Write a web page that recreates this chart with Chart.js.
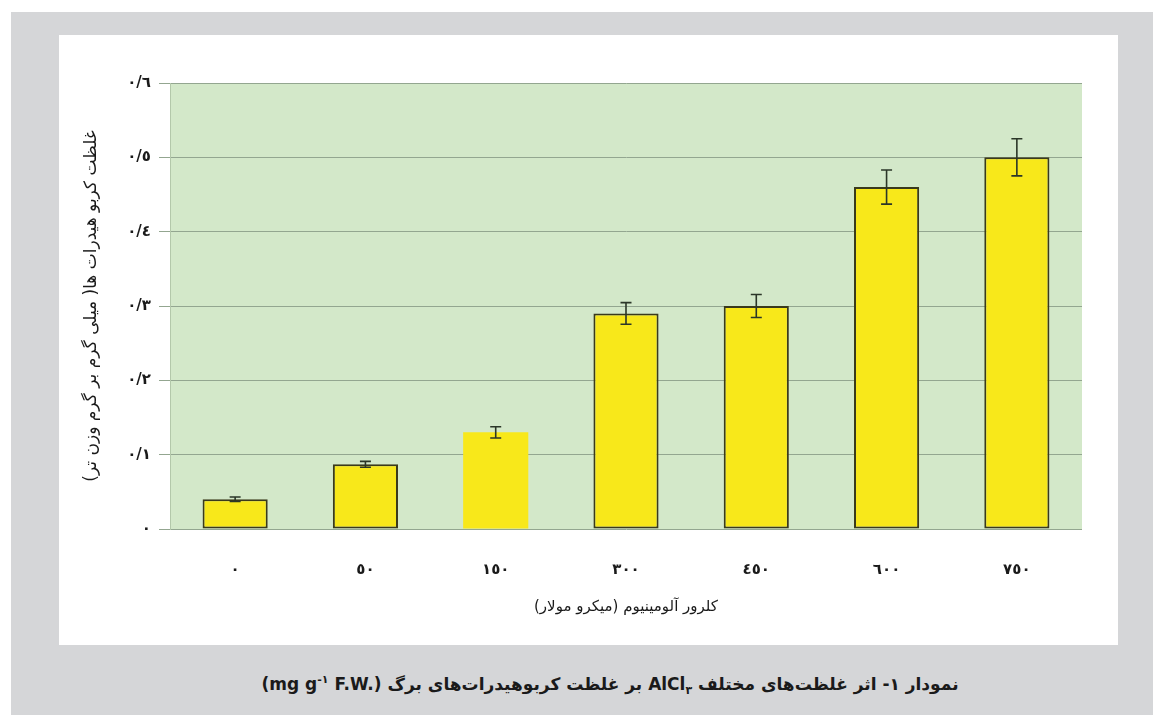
<!DOCTYPE html>
<html lang="fa">
<head>
<meta charset="utf-8">
<title>نمودار ۱</title>
<script src="https://cdn.jsdelivr.net/npm/chart.js@4.4.1/dist/chart.umd.min.js"></script>
<style>
    html, body { margin: 0; padding: 0; background: #ffffff; }
    body { width: 1153px; height: 715px; position: relative; overflow: hidden; font-family: "DejaVu Sans", sans-serif; }
    #frame { position: absolute; left: 11px; top: 12px; right: 0; bottom: 0; background: #d5d6d8; }
    #panel { position: absolute; left: 59px; top: 35px; width: 1059px; height: 610px; background: #ffffff; }
    #caption {
        position: absolute; left: 67px; right: 0; top: 673px;
        text-align: center; direction: rtl;
        font-size: 17px; font-weight: bold; color: #1a1a1a;
    }
    #caption sub { font-size: 11px; }
    #caption sup { font-size: 11px; }
</style>
</head>
<body>
<div id="frame"></div>
<div id="panel"><canvas id="chart" width="1059" height="610" dir="rtl"></canvas></div>
<div id="caption">نمودار ١- اثر غلظت‌های مختلف AlCl<sub>٣</sub> بر غلظت کربوهیدرات‌های برگ <bdi dir="ltr">(mg g<sup>-١</sup> F.W.)</bdi></div>

<script>
// غلظت کلرور آلومینیوم (میکرو مولار)
const doses = [0, 50, 150, 300, 450, 600, 750];
// غلظت کربوهیدرات (mg/g FW)
const carbs = [0.040, 0.087, 0.130, 0.290, 0.300, 0.460, 0.500];
// انحراف (error bar)
const errors = [0.003, 0.004, 0.0075, 0.0146, 0.0155, 0.023, 0.025];
const yTicks = [0, 0.1, 0.2, 0.3, 0.4, 0.5, 0.6];

const yTitle = 'غلظت کربو هیدرات ها( میلی گرم بر گرم وزن تر)';
const xTitle = 'کلرور آلومینیوم (میکرو مولار)';

// اعداد فارسی/عربی با ممیز "/"
function toArabicDigits(v) {
    const digits = '٠١٢٣٤٥٦٧٨٩';
    return String(v).replace(/[0-9]/g, d => digits[d]).replace('.', '/');
}

// پس زمینه سبز ناحیه نمودار
const plotBackground = {
    id: 'plotBackground',
    beforeDraw(chart) {
        const { ctx, chartArea } = chart;
        ctx.save();
        ctx.fillStyle = '#d3e8c9';
        ctx.fillRect(chartArea.left, chartArea.top, chartArea.right - chartArea.left, chartArea.bottom - chartArea.top);
        ctx.restore();
    }
};

// خطای استاندارد روی ستون ها
const errorBars = {
    id: 'errorBars',
    afterDatasetsDraw(chart) {
        const { ctx } = chart;
        const y = chart.scales.y;
        const meta = chart.getDatasetMeta(0);
        ctx.save();
        ctx.strokeStyle = '#2b3628';
        ctx.lineWidth = 1.6;
        meta.data.forEach((bar, i) => {
            const top = y.getPixelForValue(carbs[i] + errors[i]);
            const bottom = y.getPixelForValue(carbs[i] - errors[i]);
            const half = 5.5;
            ctx.beginPath();
            ctx.moveTo(bar.x, top);
            ctx.lineTo(bar.x, bottom);
            ctx.moveTo(bar.x - half, top);
            ctx.lineTo(bar.x + half, top);
            ctx.moveTo(bar.x - half, bottom);
            ctx.lineTo(bar.x + half, bottom);
            ctx.stroke();
        });
        ctx.restore();
    }
};

const ctx = document.getElementById('chart').getContext('2d');
new Chart(ctx, {
    type: 'bar',
    data: {
        labels: doses.map(String),
        datasets: [{
            data: carbs,
            backgroundColor: '#f8e81a',
            borderColor: '#3a3a1c',
            borderWidth: carbs.map((v, i) => (doses[i] === 150 ? 0 : 2)),
            borderSkipped: false,
            categoryPercentage: 1,
            barPercentage: 0.5
        }]
    },
    options: {
        responsive: false,
        animation: false,
        layout: { padding: { top: 48, right: 36, left: 0, bottom: 0 } },
        plugins: {
            legend: { display: false },
            tooltip: { enabled: false }
        },
        scales: {
            x: {
                grid: { display: false },
                border: { display: false },
                ticks: {
                    padding: 24,
                    color: '#1a1a1a',
                    font: { family: 'DejaVu Sans', size: 15, weight: 'bold' },
                    callback: function(value, index) { return toArabicDigits(doses[index]); }
                },
                title: {
                    display: true,
                    text: xTitle,
                    color: '#1a1a1a',
                    font: { family: 'DejaVu Sans', size: 15 },
                    padding: { top: 0, bottom: 29 }
                },
                afterFit: function(scale) { scale.height = 116; }
            },
            y: {
                min: 0,
                max: 0.6,
                afterBuildTicks: function(scale) { scale.ticks = yTicks.map(v => ({ value: v })); },
                grid: {
                    color: '#93a690',
                    lineWidth: 1,
                    tickLength: 11,
                    drawOnChartArea: true
                },
                border: { display: true, color: '#b3c8aa', width: 1 },
                ticks: {
                    padding: 8,
                    color: '#1a1a1a',
                    font: { family: 'DejaVu Sans', size: 15, weight: 'bold' },
                    callback: function(value) { return value === 0 ? '٠' : toArabicDigits(value.toFixed(1)); }
                },
                title: {
                    display: true,
                    text: yTitle,
                    color: '#1a1a1a',
                    font: { family: 'DejaVu Sans', size: 17 },
                    padding: { top: 22, bottom: 0 }
                },
                afterFit: function(scale) { scale.width = 111; }
            }
        }
    },
    plugins: [plotBackground, errorBars]
});
</script>
</body>
</html>
